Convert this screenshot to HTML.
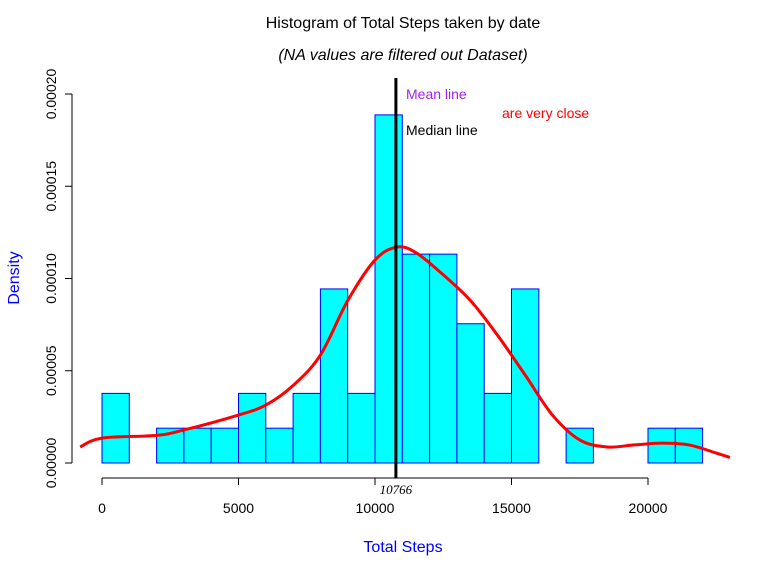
<!DOCTYPE html>
<html><head><meta charset="utf-8"><style>
body{margin:0;background:#fff}
text{font-family:"Liberation Sans",Arial,sans-serif}
</style></head><body>
<svg width="768" height="576" viewBox="0 0 768 576">
<rect width="768" height="576" fill="#fff"/>
<text x="403" y="28" font-size="16" text-anchor="middle">Histogram of Total Steps taken by date</text>
<text x="403" y="60" font-size="16" font-style="italic" text-anchor="middle">(NA values are filtered out Dataset)</text>
<text x="403" y="552" font-size="16" fill="#0000ff" text-anchor="middle">Total Steps</text>
<text transform="translate(19,278) rotate(-90)" font-size="16" fill="#0000ff" text-anchor="middle">Density</text>
<g id="bars"></g>
<g id="axes"></g>
<path id="dens" fill="none" stroke="#ff0000" stroke-width="3"/>
<g id="vline"></g>
<text x="406" y="99" font-size="14" fill="#a020f0">Mean line</text>
<text x="406" y="135" font-size="14" fill="#000">Median line</text>
<text x="502" y="118" font-size="14" fill="#ff0000">are very close</text>
</svg>
<script>
const binStarts=[0,1000,2000,3000,4000,5000,6000,7000,8000,9000,10000,11000,12000,13000,14000,15000,16000,17000,18000,19000,20000,21000];
const counts=[2,0,1,1,1,2,1,2,5,2,10,6,6,4,2,5,0,1,0,0,1,1];
const totalDays=53;
const binWidth=1000;
const densX=[-800,0,2000,3000,5000,6000,7000,8000,9000,10000,10800,11500,12500,13500,14500,15500,16500,17500,18500,19500,20500,21500,22500,23000];
const densY=[0.0000087,0.0000135,0.000015,0.0000179,0.000026,0.0000314,0.000042,0.0000585,0.000088,0.00011,0.000117,0.000114,0.000102,0.000088,0.000069,0.0000477,0.000026,0.0000125,0.0000087,0.0000098,0.0000108,0.0000098,0.0000054,0.000003];
const xTicks=[0,5000,10000,15000,20000];
const yTicks=[0,0.00005,0.0001,0.00015,0.0002];
const yTickLabels=["0.00000","0.00005","0.00010","0.00015","0.00020"];
const meanValue=10766;
const NS="http://www.w3.org/2000/svg";
const sx=v=>102+v*(546/20000);
const sy=v=>463-v*(369/0.0002);
function mk(tag,attrs,parent,txt){const e=document.createElementNS(NS,tag);for(const k in attrs)e.setAttribute(k,attrs[k]);if(txt!==undefined)e.textContent=txt;parent.appendChild(e);return e;}
const bars=document.getElementById('bars');
binStarts.forEach((b,i)=>{
  const d=counts[i]/totalDays/binWidth;
  const r=mk('rect',{x:sx(b),y:sy(d),width:sx(b+binWidth)-sx(b),height:sy(0)-sy(d),fill:'#00ffff',stroke:'#0000ff','stroke-width':1},bars);
  
  
});
const ax=document.getElementById('axes');
const xl=mk('line',{x1:sx(0),x2:sx(20000),y1:478,y2:478,stroke:'#000'},ax);


xTicks.forEach(t=>{
  mk('line',{x1:sx(t),x2:sx(t),y1:478,y2:485,stroke:'#000'},ax);
  const tx=mk('text',{x:sx(t),y:513,'font-size':14,'text-anchor':'middle'},ax,String(t));
  
  
});
const yl=mk('line',{x1:72,x2:72,y1:sy(0),y2:sy(0.0002),stroke:'#000'},ax);


yTicks.forEach((t,i)=>{
  mk('line',{x1:65,x2:72,y1:sy(t),y2:sy(t),stroke:'#000'},ax);
  const tx=mk('text',{transform:`translate(56,${sy(t)}) rotate(-90)`,'font-size':14,'text-anchor':'middle'},ax,yTickLabels[i]);
  
  
});
// smooth curve via Catmull-Rom
const pts=densX.map((x,i)=>[sx(x),sy(densY[i])]);
let d=`M${pts[0][0]},${pts[0][1]}`;
for(let i=0;i<pts.length-1;i++){
  const p0=pts[Math.max(0,i-1)],p1=pts[i],p2=pts[i+1],p3=pts[Math.min(pts.length-1,i+2)];
  d+=` C${p1[0]+(p2[0]-p0[0])/6},${p1[1]+(p2[1]-p0[1])/6} ${p2[0]-(p3[0]-p1[0])/6},${p2[1]-(p3[1]-p1[1])/6} ${p2[0]},${p2[1]}`;
}
document.getElementById('dens').setAttribute('d',d);
const vg=document.getElementById('vline');
const vl=mk('line',{x1:sx(meanValue),x2:sx(meanValue),y1:78,y2:478,stroke:'#000','stroke-width':3},vg);


const vt=mk('text',{x:sx(meanValue),y:494,'font-size':13,'font-style':'italic','text-anchor':'middle','font-family':'Liberation Serif, serif',style:'font-family:"Liberation Serif",serif'},vg,String(meanValue));


</script>
</body></html>
